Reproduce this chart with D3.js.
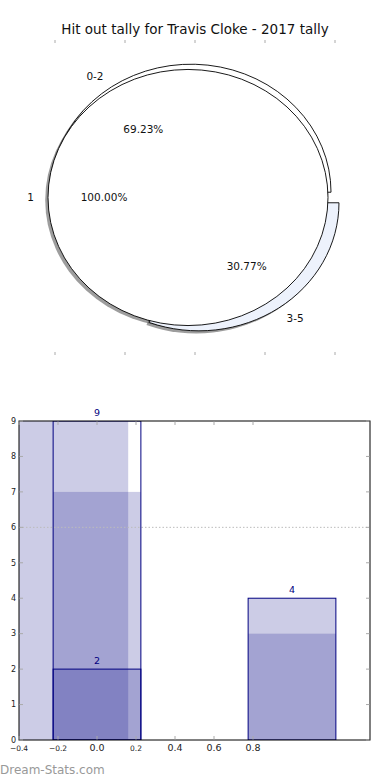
<!DOCTYPE html>
<html>
<head>
<meta charset="utf-8">
<script src="https://cdn.jsdelivr.net/npm/d3@7"></script>
<style>
  body { margin: 0; background: #fff; }
  svg { display: block; font-family: "DejaVu Sans", sans-serif; }
</style>
</head>
<body>
<svg id="chart" width="390" height="780"></svg>
<script>
// ============================================================
// DATA
// ============================================================
const chartTitle = 'Hit out tally for Travis Cloke - 2017 tally';

// inner pie (single wedge, drawn on top)
const pieOneLabels = ['1'];
const pieOneValues = [2];
// outer pie (two wedges, drawn underneath)
const pieTwoLabels = ['0-2', '3-5'];
const pieTwoValues = [9, 4];
const pieTwoColours = ['#ffffff', '#edf2fc'];
const pieTicks = [-1, -0.5, 0, 0.5, 1];
const explode = 0.05;

// bar chart: outlined bars
const barCentres = [0, 0, 1];
const barValues = [9, 2, 4];
const barWidth = 0.45;
// bar chart: translucent filled bars
const shadeStart = [-0.45, -0.225, -0.225, 0.775, 0.775];
const shadeEnd = [0.16, 0.225, 0.225, 1.225, 1.225];
const shadeValues = [9, 7, 2, 4, 3];
const averageLine = 6;

const xTicks = [-0.4, -0.2, 0, 0.2, 0.4, 0.6, 0.8];
const yTicks = [0, 1, 2, 3, 4, 5, 6, 7, 8, 9];

// ============================================================
// SETUP
// ============================================================
const svg = d3.select('#chart');
svg.append('rect').attr('width', 390).attr('height', 780).attr('fill', '#fff');

svg.append('text')
  .attr('x', 195).attr('y', 34)
  .attr('text-anchor', 'middle')
  .attr('font-size', 13.5)
  .attr('fill', '#111')
  .text(chartTitle);

// ============================================================
// PIE
// ============================================================
const px = d3.scaleLinear().domain([-1, 1]).range([55, 335]);
const py = d3.scaleLinear().domain([-1.23, 1.23]).range([355, 40]);
const sx = px(1) - px(0);
const sy = py(0) - py(1);

// pie axis ticks (frame hidden, ticks shown)
[40, 355].forEach(function(yy, i) {
  svg.append('g').selectAll('line').data(pieTicks).join('line')
    .attr('x1', d => px(d)).attr('x2', d => px(d))
    .attr('y1', yy).attr('y2', i === 0 ? yy + 3 : yy - 3)
    .attr('stroke', '#aaa').attr('stroke-width', 1);
});

const pieGen = d3.pie().sort(null)
  .startAngle(Math.PI / 2).endAngle(Math.PI / 2 - 2 * Math.PI);
const unitArc = d3.arc().innerRadius(0).outerRadius(1);

function pieSlices(labels, values, colours) {
  const total = d3.sum(values);
  return pieGen(values).map(function(s, i) {
    const mid = (s.startAngle + s.endAngle) / 2;
    return {
      slice: s, label: labels[i], colour: colours[i],
      pct: (100 * values[i] / total).toFixed(2) + '%',
      dx: Math.sin(mid), dy: Math.cos(mid)
    };
  });
}

const slicesTwo = pieSlices(pieTwoLabels, pieTwoValues, pieTwoColours);
const slicesOne = pieSlices(pieOneLabels, pieOneValues, ['#ffffff']);
const allSlices = slicesTwo.concat(slicesOne);

function wedgeTransform(d, ox, oy) {
  return 'translate(' + (px(explode * d.dx + ox)) + ',' + (py(explode * d.dy + oy)) +
    ') scale(' + sx + ',' + sy + ')';
}

// shadows first (lower z-order)
svg.append('g').selectAll('path').data(allSlices).join('path')
  .attr('transform', d => wedgeTransform(d, -0.02, -0.02))
  .attr('d', d => unitArc(d.slice))
  .attr('fill', '#4d4d4d').attr('fill-opacity', 0.55);

// wedges
svg.append('g').selectAll('path').data(allSlices).join('path')
  .attr('transform', d => wedgeTransform(d, 0, 0))
  .attr('d', d => unitArc(d.slice))
  .attr('fill', d => d.colour)
  .attr('stroke', '#000').attr('stroke-width', 0.9)
  .attr('vector-effect', 'non-scaling-stroke');

// labels
const pieText = svg.append('g').attr('font-size', 10.5).attr('fill', '#111');
allSlices.forEach(function(d) {
  const r1 = explode + 1.1, r2 = explode + 0.6;
  pieText.append('text')
    .attr('x', px(r1 * d.dx)).attr('y', py(r1 * d.dy))
    .attr('dy', '0.35em')
    .attr('text-anchor', d.dx < -1e-6 ? 'end' : 'start')
    .text(d.label);
  pieText.append('text')
    .attr('x', px(r2 * d.dx)).attr('y', py(r2 * d.dy))
    .attr('dy', '0.35em')
    .attr('text-anchor', 'middle')
    .text(d.pct);
});

// ============================================================
// BAR CHART
// ============================================================
const plotLeft = 19, plotRight = 370, plotTop = 421, plotBottom = 740;
const x = d3.scaleLinear().domain([-0.4, 1.4]).range([plotLeft, plotRight]);
const y = d3.scaleLinear().domain([0, 9]).range([plotBottom, plotTop]);
const navy = '#000080';

svg.append('clipPath').attr('id', 'plotClip')
  .append('rect').attr('x', plotLeft).attr('y', plotTop)
  .attr('width', plotRight - plotLeft).attr('height', plotBottom - plotTop);

const plot = svg.append('g').attr('clip-path', 'url(#plotClip)');

plot.selectAll('rect.shade').data(shadeValues).join('rect')
  .attr('class', 'shade')
  .attr('x', (d, i) => x(shadeStart[i]))
  .attr('width', (d, i) => x(shadeEnd[i]) - x(shadeStart[i]))
  .attr('y', d => y(d))
  .attr('height', d => y(0) - y(d))
  .attr('fill', navy).attr('fill-opacity', 0.2);

plot.append('line')
  .attr('x1', plotLeft).attr('x2', plotRight)
  .attr('y1', y(averageLine)).attr('y2', y(averageLine))
  .attr('stroke', '#bbb').attr('stroke-width', 1)
  .attr('stroke-dasharray', '1.5,2');

plot.selectAll('rect.bar').data(barValues).join('rect')
  .attr('class', 'bar')
  .attr('x', (d, i) => x(barCentres[i] - barWidth / 2))
  .attr('width', x(barWidth) - x(0))
  .attr('y', d => y(d))
  .attr('height', d => y(0) - y(d))
  .attr('fill', 'none').attr('stroke', navy).attr('stroke-width', 1);

svg.append('g').selectAll('text').data(barValues).join('text')
  .attr('x', (d, i) => x(barCentres[i]))
  .attr('y', d => y(d) - 5)
  .attr('text-anchor', 'middle')
  .attr('font-size', 9.5)
  .attr('fill', navy)
  .text(d => d);

// frame
svg.append('rect')
  .attr('x', plotLeft).attr('y', plotTop)
  .attr('width', plotRight - plotLeft).attr('height', plotBottom - plotTop)
  .attr('fill', 'none').attr('stroke', '#000').attr('stroke-width', 1);

// ticks (inward, grey)
const tickCol = '#aaa';
const ticks = svg.append('g').attr('stroke', tickCol).attr('stroke-width', 1);
ticks.selectAll('line.xb').data(xTicks).join('line')
  .attr('x1', d => x(d)).attr('x2', d => x(d))
  .attr('y1', plotBottom - 0.5).attr('y2', plotBottom - 4);
ticks.selectAll('line.xt').data(xTicks).join('line')
  .attr('x1', d => x(d)).attr('x2', d => x(d))
  .attr('y1', plotTop + 0.5).attr('y2', plotTop + 4);
ticks.selectAll('line.yl').data(yTicks).join('line')
  .attr('x1', plotLeft + 0.5).attr('x2', plotLeft + 4)
  .attr('y1', d => y(d)).attr('y2', d => y(d));
ticks.selectAll('line.yr').data(yTicks).join('line')
  .attr('x1', plotRight - 0.5).attr('x2', plotRight - 4)
  .attr('y1', d => y(d)).attr('y2', d => y(d));

const fmt = d3.format('.1f');
svg.append('g').selectAll('text').data(xTicks).join('text')
  .attr('x', d => x(d)).attr('y', plotBottom + 11)
  .attr('text-anchor', 'middle')
  .attr('font-size', d => (d < 0 || d === 0.2) ? 7.5 : 9.5)
  .attr('fill', '#222')
  .text(d => fmt(d));

svg.append('g').selectAll('text').data(yTicks).join('text')
  .attr('x', plotLeft - 3).attr('y', d => y(d))
  .attr('dy', '0.35em')
  .attr('text-anchor', 'end')
  .attr('font-size', 8)
  .attr('fill', '#222')
  .text(d => d);

// watermark
svg.append('text')
  .attr('x', 0).attr('y', 774)
  .attr('font-size', 12)
  .attr('fill', '#999')
  .text('Dream-Stats.com');
</script>
</body>
</html>
